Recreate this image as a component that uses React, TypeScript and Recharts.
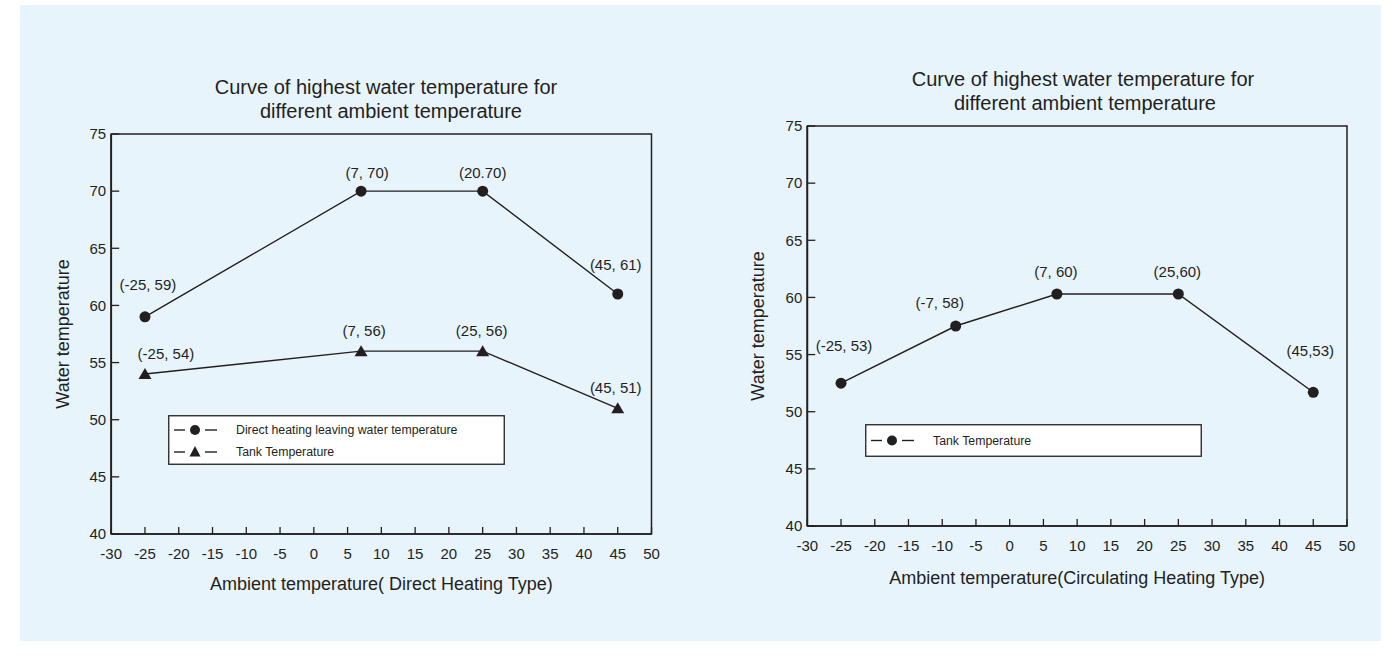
import React from 'react';
import { LineChart, Line, XAxis, YAxis, ReferenceArea, LabelList, Legend } from 'recharts';

// axis ticks
const ambientTicks = [-30, -25, -20, -15, -10, -5, 0, 5, 10, 15, 20, 25, 30, 35, 40, 45, 50];
const waterTicks = [40, 45, 50, 55, 60, 65, 70, 75];

// direct heating type
const directAmbient = [-25, 7, 25, 45];
const directLeaving = [59, 70, 70, 61];
const directLeavingLabels = ['(-25, 59)', '(7, 70)', '(20.70)', '(45, 61)'];
const directTank = [54, 56, 56, 51];
const directTankLabels = ['(-25, 54)', '(7, 56)', '(25, 56)', '(45, 51)'];

// circulating heating type
const circAmbient = [-25, -8, 7, 25, 45];
const circTank = [52.5, 57.5, 60.3, 60.3, 51.7];
const circTankLabels = ['(-25, 53)', '(-7, 58)', '(7, 60)', '(25,60)', '(45,53)'];

const ink = '#231f20';
const font = '"Liberation Sans", Arial, Helvetica, sans-serif';

// label offsets from the point (centre of the text)
const leavingShift = [[3, -32], [6, -19], [0, -19], [-2, -30]];
const tankShift = [[21, -21], [3, -21], [-1, -21], [-2, -21]];
const circShift = [[3, -38], [-16, -24], [-1, -23], [-1, -23], [-3, -42]];

const toRows = (xs: number[], ys: number[], labels: string[]) =>
  xs.map((x, i) => ({ ambient: x, water: ys[i], label: labels[i] }));

const leavingData = toRows(directAmbient, directLeaving, directLeavingLabels);
const tankData = toRows(directAmbient, directTank, directTankLabels);
const circData = toRows(circAmbient, circTank, circTankLabels);

const pointLabel = (shift: number[][]) => (p: any) => {
  const i = p.index ?? 0;
  const x = p.x ?? p.viewBox?.x;
  const y = p.y ?? p.viewBox?.y;
  const s = shift[i] || [0, -20];
  return (
    <text key={`lbl-${i}`} x={x + s[0]} y={y + s[1]} textAnchor="middle" dominantBaseline="central"
      fill={ink} fontSize={15} fontFamily={font}>
      {p.value}
    </text>
  );
};

const triangleDot = (p: any) => (
  <polygon key={`tri-${p.index}`} fill={ink}
    points={`${p.cx},${p.cy - 6} ${p.cx - 6.5},${p.cy + 5} ${p.cx + 6.5},${p.cy + 5}`} />
);

const legendBox = (w: number, h: number, rowY: number[]) => (props: any) => {
  const items = props.payload || [];
  return (
    <svg width={w} height={h} style={{ display: 'block' }}>
      <rect x={0.75} y={0.75} width={w - 1.5} height={h - 1.5} fill="#fff" stroke={ink} strokeWidth={1.3} />
      {items.map((it: any, i: number) => {
        const y = rowY[i];
        return (
          <g key={it.value}>
            <line x1={6} x2={17} y1={y} y2={y} stroke={ink} strokeWidth={1.4} />
            <line x1={37} x2={49} y1={y} y2={y} stroke={ink} strokeWidth={1.4} />
            {it.type === 'triangle' ? (
              <polygon fill={ink} points={`27,${y - 6} 21.5,${y + 4.5} 32.5,${y + 4.5}`} />
            ) : (
              <circle cx={27} cy={y} r={5} fill={ink} />
            )}
            <text x={68} y={y} dominantBaseline="central" fill={ink} fontSize={12.3} fontFamily={font}>
              {it.value}
            </text>
          </g>
        );
      })}
    </svg>
  );
};

const axisTick = { fill: ink, fontSize: 15, fontFamily: font };

const Title = ({ cx, top, text }: { cx: number; top: number; text: string }) => (
  <div style={{ position: 'absolute', left: cx - 250, top, width: 500, textAlign: 'center',
    fontSize: 20, lineHeight: '24px', color: ink, fontFamily: font }}>{text}</div>
);

export default function App() {
  return (
    <div style={{ position: 'absolute', left: 0, top: 0, width: 1399, height: 670, background: '#fff', fontFamily: font }}>
      <div style={{ position: 'absolute', left: 20, top: 5, width: 1361, height: 636, background: '#e8f4fc' }} />

      <Title cx={386} top={75} text="Curve of highest water temperature for" />
      <Title cx={391} top={99} text="different ambient temperature" />
      <Title cx={1083} top={67} text="Curve of highest water temperature for" />
      <Title cx={1085} top={91} text="different ambient temperature" />

      <div style={{ position: 'absolute', left: 0, top: 0 }}>
        <LineChart width={700} height={640} margin={{ top: 134, right: 48.5, bottom: 76, left: 61.2 }}>
          <XAxis dataKey="ambient" type="number" domain={[-30, 50]} ticks={ambientTicks} interval={0}
            allowDataOverflow height={30} tickSize={-7} tickMargin={21} tick={axisTick} fontSize={15}
            axisLine={{ stroke: ink, strokeWidth: 1.5 }} tickLine={{ stroke: ink, strokeWidth: 1.3 }}
            label={{ value: 'Ambient temperature( Direct Heating Type)', position: 'bottom', offset: 13, fill: ink, fontSize: 18, fontFamily: font }} />
          <YAxis dataKey="water" type="number" domain={[40, 75]} ticks={waterTicks} interval={0}
            allowDataOverflow width={50} tickSize={-8} tickMargin={13} tick={axisTick} fontSize={15}
            axisLine={{ stroke: ink, strokeWidth: 1.8 }} tickLine={{ stroke: ink, strokeWidth: 1.3 }}
            label={{ value: 'Water temperature', angle: -90, position: 'insideLeft', offset: 1, fill: ink, fontSize: 18, fontFamily: font, style: { textAnchor: 'middle' } }} />
          <ReferenceArea x1={-30} x2={50} y1={40} y2={75} fill="none" stroke={ink} strokeWidth={1.5} ifOverflow="visible" />
          <Legend layout="vertical" align="center" verticalAlign="middle"
            wrapperStyle={{ left: 168, top: 415, width: 337, height: 50 }}
            content={legendBox(337, 50, [15, 37])} />
          <Line data={leavingData} dataKey="water" name="Direct heating leaving water temperature" legendType="circle"
            stroke={ink} strokeWidth={1.4} isAnimationActive={false}
            dot={{ r: 5.5, fill: ink, stroke: ink, strokeWidth: 0 }} activeDot={false}>
            <LabelList dataKey="label" content={pointLabel(leavingShift)} />
          </Line>
          <Line data={tankData} dataKey="water" name="Tank Temperature" legendType="triangle"
            stroke={ink} strokeWidth={1.4} isAnimationActive={false}
            dot={triangleDot} activeDot={false}>
            <LabelList dataKey="label" content={pointLabel(tankShift)} />
          </Line>
        </LineChart>
      </div>

      <div style={{ position: 'absolute', left: 700, top: 0 }}>
        <LineChart width={699} height={640} margin={{ top: 126, right: 52, bottom: 84, left: 57.3 }}>
          <XAxis dataKey="ambient" type="number" domain={[-30, 50]} ticks={ambientTicks} interval={0}
            allowDataOverflow height={30} tickSize={-7} tickMargin={21} tick={axisTick} fontSize={15}
            axisLine={{ stroke: ink, strokeWidth: 1.5 }} tickLine={{ stroke: ink, strokeWidth: 1.3 }}
            label={{ value: 'Ambient temperature(Circulating Heating Type)', position: 'bottom', offset: 15, fill: ink, fontSize: 18, fontFamily: font }} />
          <YAxis dataKey="water" type="number" domain={[40, 75]} ticks={waterTicks} interval={0}
            allowDataOverflow width={50} tickSize={-8} tickMargin={13} tick={axisTick} fontSize={15}
            axisLine={{ stroke: ink, strokeWidth: 1.8 }} tickLine={{ stroke: ink, strokeWidth: 1.3 }}
            label={{ value: 'Water temperature', angle: -90, position: 'insideLeft', offset: 0, fill: ink, fontSize: 18, fontFamily: font, style: { textAnchor: 'middle' } }} />
          <ReferenceArea x1={-30} x2={50} y1={40} y2={75} fill="none" stroke={ink} strokeWidth={1.5} ifOverflow="visible" />
          <Legend layout="vertical" align="center" verticalAlign="middle"
            wrapperStyle={{ left: 165, top: 424, width: 337, height: 33 }}
            content={legendBox(337, 33, [16.5])} />
          <Line data={circData} dataKey="water" name="Tank Temperature" legendType="circle"
            stroke={ink} strokeWidth={1.4} isAnimationActive={false}
            dot={{ r: 5.5, fill: ink, stroke: ink, strokeWidth: 0 }} activeDot={false}>
            <LabelList dataKey="label" content={pointLabel(circShift)} />
          </Line>
        </LineChart>
      </div>
    </div>
  );
}
